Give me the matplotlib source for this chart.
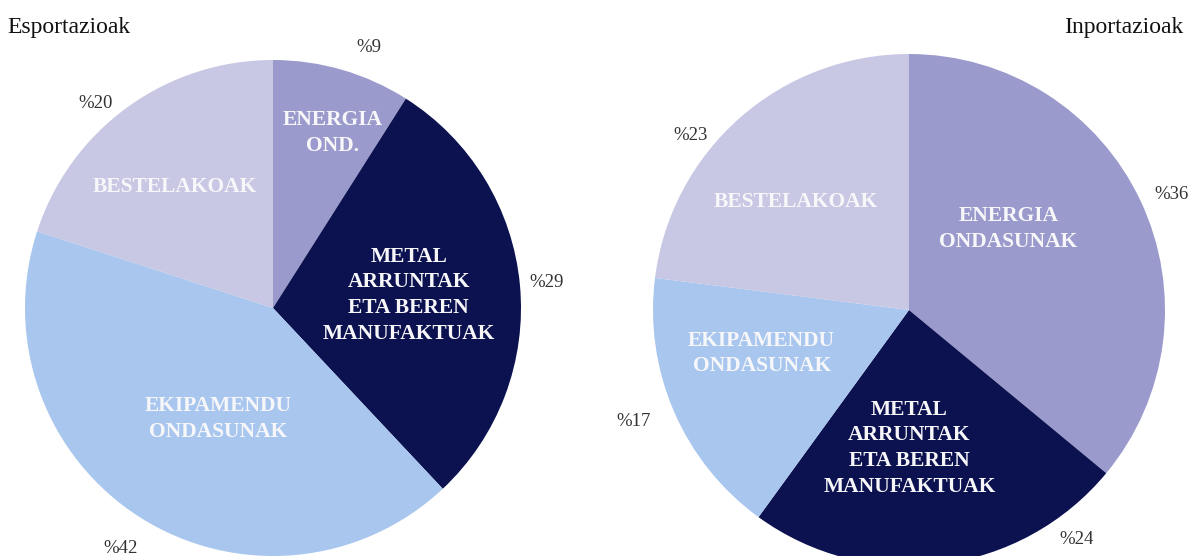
import matplotlib
matplotlib.use("Agg")
import matplotlib.pyplot as plt
import numpy as np

# Data
categories = ["ENERGIA", "METAL", "EKIPAMENDU", "BESTELAKOAK"]
export_values = [9, 29, 42, 20]
import_values = [36, 24, 17, 23]
export_names = ["ENERGIA\nOND.", "METAL\nARRUNTAK\nETA BEREN\nMANUFAKTUAK",
                "EKIPAMENDU\nONDASUNAK", "BESTELAKOAK"]
import_names = ["ENERGIA\nONDASUNAK", "METAL\nARRUNTAK\nETA BEREN\nMANUFAKTUAK",
                "EKIPAMENDU\nONDASUNAK", "BESTELAKOAK"]

colors = ["#9b9acc", "#0c1250", "#a8c6ee", "#c8c7e4"]
FONT = ["Liberation Serif", "DejaVu Serif"]

# per-slice label placement: (radius, angle shift in degrees)
export_pct_pos = [(1.12, -4), (1.11, 0), (1.15, 0), (1.09, 5)]
export_name_pos = [(0.745, -2.5), (0.55, 0), (0.50, 6), (0.63, 3)]
import_pct_pos = [(1.12, -1.5), (1.11, 29), (1.16, -1.4), (1.09, 10)]
import_name_pos = [(0.50, 14), (0.54, -7), (0.60, -7), (0.61, 5)]


def draw_pie(ax, values, names, pct_pos, name_pos):
    wedges, _ = ax.pie(values, colors=colors, startangle=90, counterclock=False,
                       radius=1.0, wedgeprops=dict(linewidth=0))
    for w, v, name, (rp, sp), (rn, sn) in zip(wedges, values, names, pct_pos, name_pos):
        mid = (w.theta1 + w.theta2) / 2.0
        a = np.deg2rad(mid + sp)
        ax.text(rp * np.cos(a), rp * np.sin(a), f"%{v}", ha="center", va="center",
                fontsize=13.5, color="#333333", family=FONT)
        a = np.deg2rad(mid + sn)
        ax.text(rn * np.cos(a), rn * np.sin(a), name, ha="center", va="center",
                fontsize=15.5, fontweight="bold", color="#f7f7fa", family=FONT,
                linespacing=1.38)
    ax.set_xlim(-1, 1)
    ax.set_ylim(-1, 1)
    ax.set_aspect("equal")
    ax.set_axis_off()


fig = plt.figure(figsize=(11.88, 5.56), dpi=100)
W, H = 1188.0, 556.0

# left pie: center (273, 248) px from bottom, radius 248
ax1 = fig.add_axes([(273 - 248) / W, (248 - 248) / H, 496 / W, 496 / H])
draw_pie(ax1, export_values, export_names, export_pct_pos, export_name_pos)

# right pie: center (909, 246) px from bottom, radius 256
ax2 = fig.add_axes([(909 - 256) / W, (246 - 256) / H, 512 / W, 512 / H])
draw_pie(ax2, import_values, import_names, import_pct_pos, import_name_pos)

fig.text(7 / W, 1 - 28 / H, "Esportazioak", ha="left", va="center",
         fontsize=17, color="#111111", family=FONT)
fig.text(1183 / W, 1 - 28 / H, "Inportazioak", ha="right", va="center",
         fontsize=17, color="#111111", family=FONT)

fig.savefig("out.png", dpi=100, facecolor="white")
